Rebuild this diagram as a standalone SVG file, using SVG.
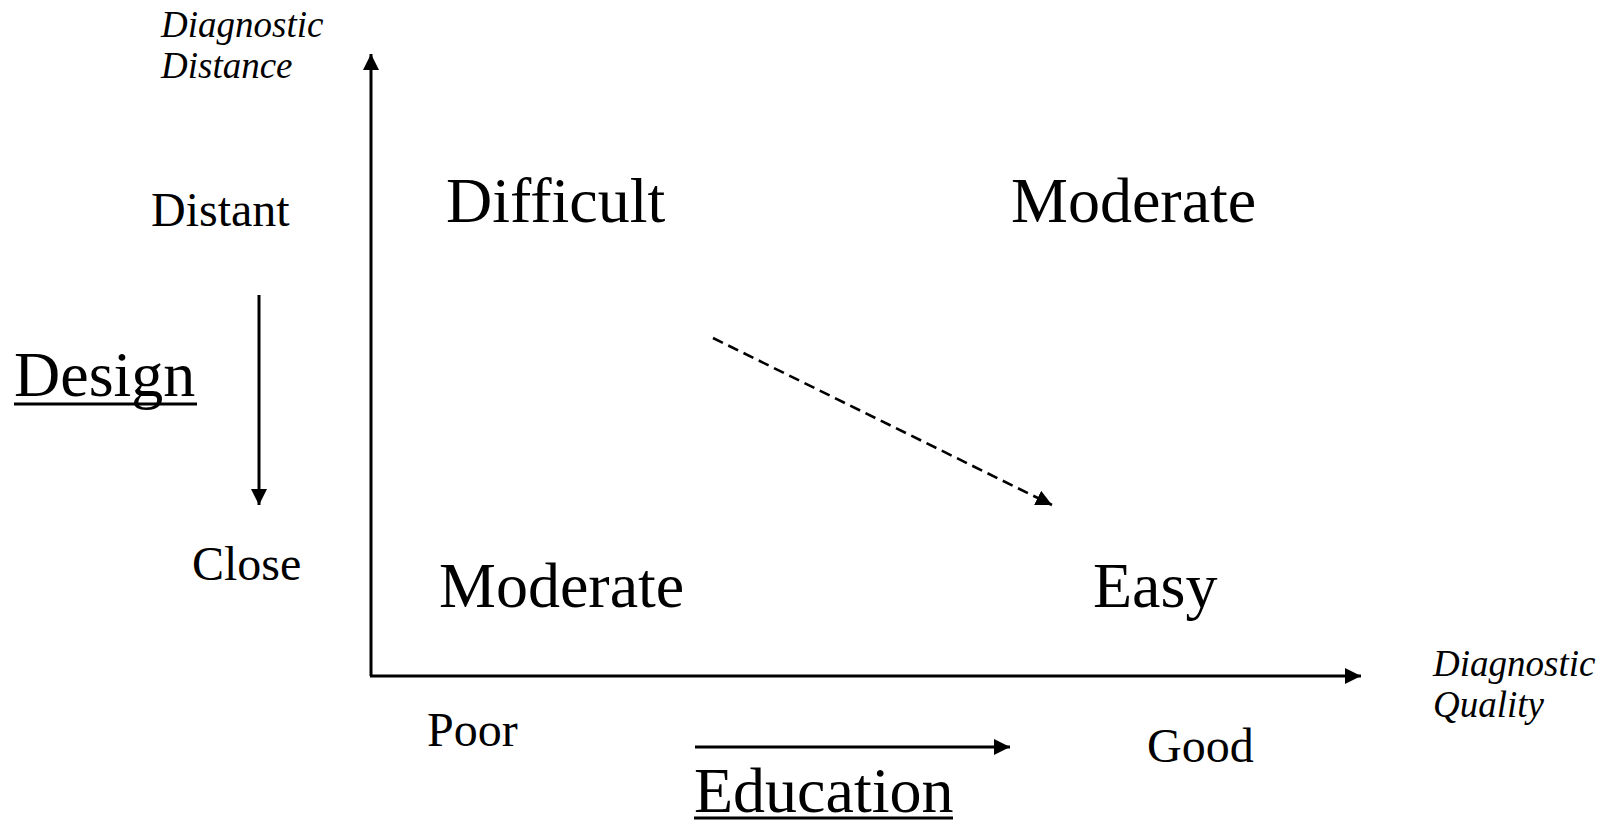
<svg xmlns="http://www.w3.org/2000/svg" width="1602" height="824" viewBox="0 0 1602 824">
  <style>
    text { font-family: "Liberation Serif", "Times New Roman", serif; fill: #000; }
    .axis-title { font-size: 37px; font-style: italic; }
    .tick { font-size: 48px; }
    .cell { font-size: 64px; }
    .lever { font-size: 64px; }
    .line { stroke: #000; stroke-width: 3; fill: none; }
    .dashed { stroke: #000; stroke-width: 2.6; fill: none; stroke-dasharray: 11 6; }
    .underline { stroke: #000; stroke-width: 3; }
  </style>
  <defs>
    <marker id="head" markerUnits="userSpaceOnUse" markerWidth="18" markerHeight="18" viewBox="0 0 18 18" refX="16" refY="9" orient="auto">
      <path d="M0,1 L16,9 L0,17 Z" fill="#000"/>
    </marker>
  </defs>

  <rect width="1602" height="824" fill="#fff"/>

  <!-- axes and arrows -->
  <g id="connectors">
    <path class="line" d="M371,676 L371,54" marker-end="url(#head)"/>
    <path class="line" d="M370,676 L1361,676" marker-end="url(#head)"/>
    <path class="line" d="M259,295 L259,505" marker-end="url(#head)"/>
    <path class="line" d="M695,747 L1010,747" marker-end="url(#head)"/>
    <path class="dashed" d="M713,338 L1052,505" marker-end="url(#head)"/>
  </g>

  <!-- axis titles -->
  <g id="y-axis-title">
    <text class="axis-title" x="161" y="37">Diagnostic</text>
    <text class="axis-title" x="161" y="78">Distance</text>
  </g>
  <g id="x-axis-title">
    <text class="axis-title" x="1433" y="676">Diagnostic</text>
    <text class="axis-title" x="1433" y="717">Quality</text>
  </g>

  <!-- scale ends -->
  <g id="distant"><text class="tick" x="151" y="226">Distant</text></g>
  <g id="close"><text class="tick" x="192" y="580">Close</text></g>
  <g id="poor"><text class="tick" x="427" y="746">Poor</text></g>
  <g id="good"><text class="tick" x="1147" y="762">Good</text></g>

  <!-- quadrants -->
  <g id="difficult"><text class="cell" x="446" y="222">Difficult</text></g>
  <g id="moderate-top"><text class="cell" x="1011" y="222">Moderate</text></g>
  <g id="moderate-bottom"><text class="cell" x="439" y="607">Moderate</text></g>
  <g id="easy"><text class="cell" x="1093" y="607">Easy</text></g>

  <!-- levers -->
  <g id="design">
    <text class="lever" x="14" y="396">Design</text>
    <line class="underline" x1="14" y1="404" x2="197" y2="404"/>
  </g>
  <g id="education">
    <text class="lever" x="694" y="812">Education</text>
    <line class="underline" x1="694" y1="818" x2="953" y2="818"/>
  </g>
</svg>
